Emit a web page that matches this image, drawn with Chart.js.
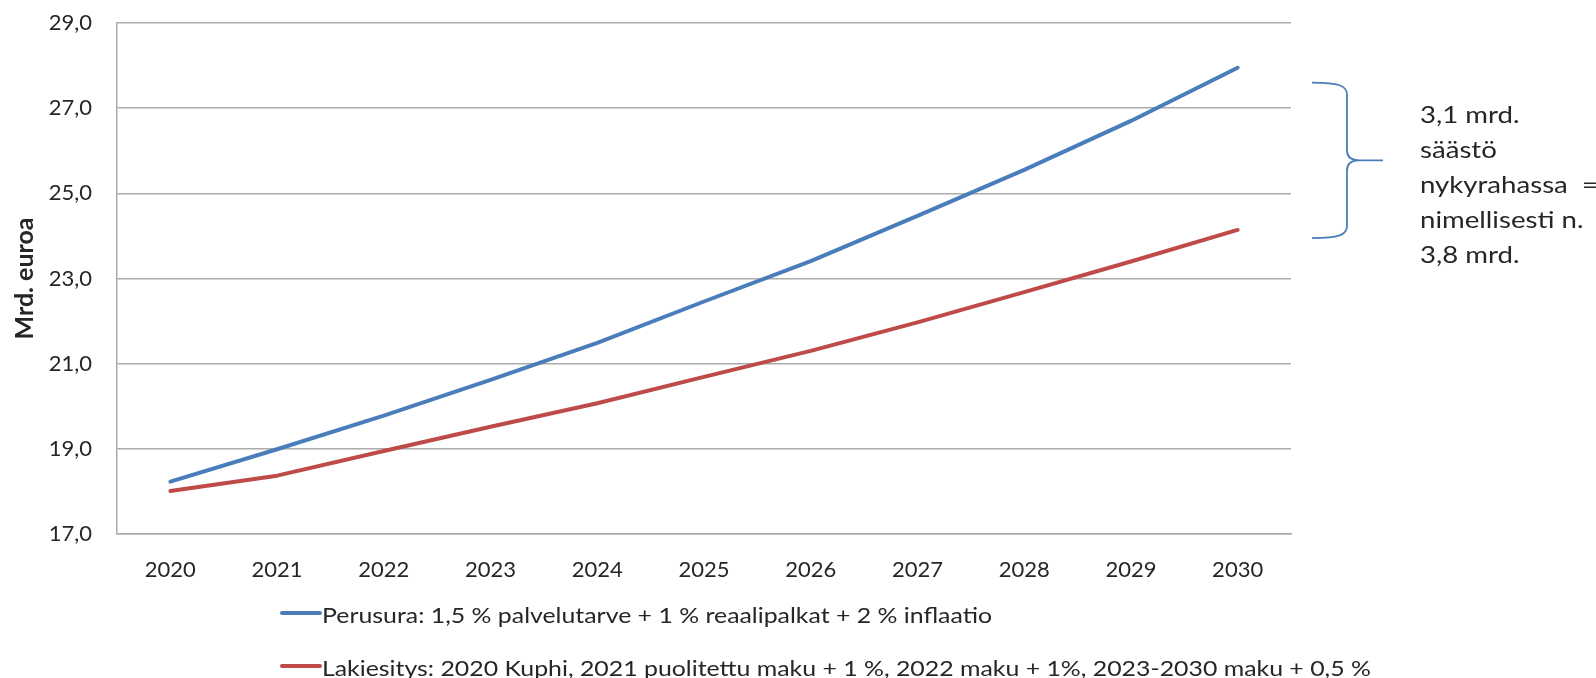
<!DOCTYPE html>
<html>
<head>
<meta charset="utf-8">
<script src="https://cdn.jsdelivr.net/npm/chart.js@4/dist/chart.umd.min.js"></script>
<style>
html,body{margin:0;padding:0;background:#fff;}
#wrap{position:relative;width:1596px;height:678px;}
</style>
</head>
<body>
<div id="wrap"><canvas id="c" width="1596" height="678"></canvas></div>
<script>
const years = ['2020','2021','2022','2023','2024','2025','2026','2027','2028','2029','2030'];
const perusura = [18.23, 18.99, 19.78, 20.62, 21.49, 22.46, 23.41, 24.47, 25.55, 26.70, 27.95];
const lakiesitys = [18.01, 18.37, 18.95, 19.52, 20.07, 20.69, 21.30, 21.97, 22.68, 23.40, 24.14];
const seriesLabels = [
  'Perusura: 1,5 % palvelutarve + 1 % reaalipalkat + 2 % inflaatio',
  'Lakiesitys: 2020 Kuphi, 2021 puolitettu maku + 1 %, 2022 maku + 1%, 2023-2030 maku + 0,5 %'
];
const yTicks = [17, 19, 21, 23, 25, 27, 29];
const yTitle = 'Mrd. euroa';
const annotationLines = ['3,1 mrd.', 'säästö', 'nykyrahassa  =', 'nimellisesti n.', '3,8 mrd.'];
const braceRange = [27.6, 23.95];

const BLUE = '#4a7ebb';
const RED = '#be4b48';
const GRID = '#ababab';
const TEXT = '#262626';
const FONT = 'Lato';

function stretchedText(ctx, text, x, y, sx) {
  ctx.save();
  ctx.translate(x, y);
  ctx.scale(sx, 1);
  ctx.fillText(text, 0, 0);
  ctx.restore();
}

const extras = {
  id: 'extras',
  afterDraw(chart) {
    const ctx = chart.ctx;
    const ys = chart.scales.y;
    ctx.save();
    // legend
    ctx.font = '22px ' + FONT;
    ctx.textBaseline = 'alphabetic';
    ctx.textAlign = 'left';
    chart.data.datasets.forEach((ds, i) => {
      const yl = 613 + i * 53;
      ctx.strokeStyle = ds.borderColor;
      ctx.lineWidth = 4;
      ctx.lineCap = 'round';
      ctx.beginPath();
      ctx.moveTo(282, yl);
      ctx.lineTo(320, yl);
      ctx.stroke();
      ctx.fillStyle = TEXT;
      stretchedText(ctx, ds.label, 322, yl + 10, 1.13);
    });
    // brace
    const top = ys.getPixelForValue(braceRange[0]);
    const bot = ys.getPixelForValue(braceRange[1]);
    const mid = (top + bot) / 2;
    const xl = 1312, xv = 1347, xt = 1383;
    ctx.strokeStyle = BLUE;
    ctx.lineWidth = 1.8;
    ctx.lineCap = 'butt';
    ctx.beginPath();
    ctx.moveTo(xl, top);
    ctx.bezierCurveTo(xv - 8, top, xv, top + 3, xv, top + 12);
    ctx.lineTo(xv, mid - 10);
    ctx.quadraticCurveTo(xv, mid, xv + 12, mid);
    ctx.lineTo(xt, mid);
    ctx.moveTo(xv + 12, mid);
    ctx.quadraticCurveTo(xv, mid, xv, mid + 10);
    ctx.lineTo(xv, bot - 12);
    ctx.bezierCurveTo(xv, bot - 3, xv - 8, bot, xl, bot);
    ctx.stroke();
    // annotation text
    ctx.fillStyle = TEXT;
    ctx.font = '23px ' + FONT;
    annotationLines.forEach((t, i) => {
      stretchedText(ctx, t, 1420, 122.5 + i * 35, 1.2);
    });
    ctx.restore();
  }
};

new Chart(document.getElementById('c'), {
  type: 'line',
  data: {
    labels: years,
    datasets: [
      { label: seriesLabels[0], data: perusura, borderColor: BLUE, backgroundColor: BLUE,
        borderWidth: 4, pointRadius: 0, tension: 0, borderCapStyle: 'round', borderJoinStyle: 'round' },
      { label: seriesLabels[1], data: lakiesitys, borderColor: RED, backgroundColor: RED,
        borderWidth: 4, pointRadius: 0, tension: 0, borderCapStyle: 'round', borderJoinStyle: 'round' }
    ]
  },
  options: {
    responsive: false,
    animation: false,
    devicePixelRatio: 1,
    layout: { padding: { top: 23, right: 305, left: 0, bottom: 0 } },
    plugins: { legend: { display: false }, tooltip: { enabled: false } },
    scales: {
      x: {
        offset: true,
        grid: { display: false, drawTicks: false },
        border: { display: true, color: GRID, width: 1.5 },
        ticks: { font: { family: FONT, size: 22 }, color: TEXT, padding: 23, maxRotation: 0 },
        afterFit(s) { s.height = 144; s.paddingLeft = 0; s.paddingRight = 0; }
      },
      y: {
        min: 17, max: 29,
        afterBuildTicks(s) { s.ticks = yTicks.map(v => ({ value: v })); },
        grid: { color: GRID, lineWidth: 1.5, drawTicks: false },
        border: { display: true, color: GRID, width: 1.5 },
        ticks: {
          font: { family: FONT, size: 22 }, color: TEXT, padding: 25,
          callback: v => v.toFixed(1).replace('.', ',')
        },
        title: {
          display: true, text: yTitle, color: TEXT,
          font: { family: FONT, size: 25, weight: 'bold' },
          padding: { top: 10, bottom: 0 }
        },
        afterFit(s) { s.width = 117; s.paddingTop = 0; s.paddingBottom = 0; }
      }
    }
  },
  plugins: [extras]
});
</script>
</body>
</html>
